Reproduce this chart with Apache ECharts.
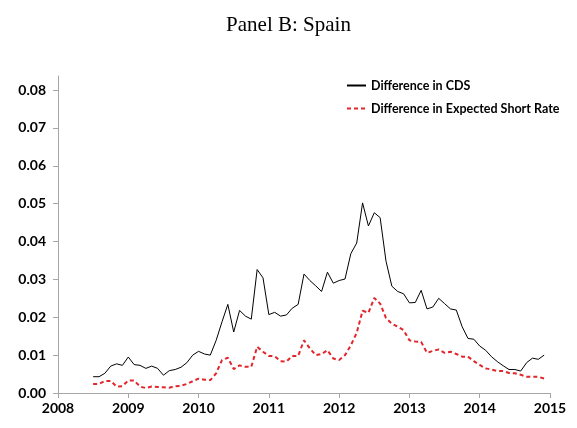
<!DOCTYPE html>
<html>
<head>
<meta charset="utf-8">
<script src="https://cdn.jsdelivr.net/npm/echarts@6/dist/echarts.min.js"></script>
<style>
  html, body { margin: 0; padding: 0; background: #fff; }
  #chart { width: 577px; height: 428px; }
</style>
</head>
<body>
<div id="chart"></div>
<script>
// monthly observations, Jul 2008 .. Dec 2014
var startYear = 2008, startMonth = 6, nMonths = 78;
var months = [];
for (var i = 0; i < nMonths; i++) {
    months.push(startYear + (startMonth + i) / 12);
}

var cdsDiff = [
    0.0043, 0.0043, 0.0052, 0.0071, 0.0077, 0.0073,
    0.0095, 0.0075, 0.0073, 0.0065, 0.0071, 0.0065, 0.0047, 0.0059, 0.0062, 0.0068, 0.0080, 0.0100,
    0.0110, 0.0103, 0.0100, 0.0139, 0.0188, 0.0234, 0.0161, 0.0218, 0.0203, 0.0195, 0.0326, 0.0304,
    0.0207, 0.0213, 0.0203, 0.0206, 0.0224, 0.0234, 0.0314, 0.0297, 0.0283, 0.0268, 0.0319, 0.0290,
    0.0297, 0.0301, 0.0368, 0.0396, 0.0502, 0.0441, 0.0476, 0.0463, 0.0348, 0.0282, 0.0268, 0.0262,
    0.0238, 0.0239, 0.0271, 0.0222, 0.0227, 0.0250, 0.0236, 0.0222, 0.0219, 0.0175, 0.0144, 0.0142,
    0.0124, 0.0113, 0.0096, 0.0083, 0.0072, 0.0062, 0.0062, 0.0058, 0.0080, 0.0092, 0.0089, 0.0100
];

var shortRateDiff = [
    0.0024, 0.0024, 0.0032, 0.0032, 0.0017, 0.0018,
    0.0033, 0.0033, 0.0017, 0.0013, 0.0017, 0.0016, 0.0015, 0.0014, 0.0018, 0.0019, 0.0024, 0.0031,
    0.0038, 0.0035, 0.0034, 0.0052, 0.0087, 0.0093, 0.0063, 0.0073, 0.0069, 0.0069, 0.0122, 0.0109,
    0.0098, 0.0097, 0.0084, 0.0083, 0.0098, 0.0098, 0.0139, 0.0118, 0.0100, 0.0103, 0.0113, 0.0091,
    0.0087, 0.0100, 0.0126, 0.0159, 0.0217, 0.0212, 0.0251, 0.0236, 0.0198, 0.0183, 0.0175, 0.0166,
    0.0139, 0.0136, 0.0135, 0.0106, 0.0111, 0.0115, 0.0106, 0.0109, 0.0103, 0.0096, 0.0096, 0.0084,
    0.0074, 0.0065, 0.0062, 0.0058, 0.0058, 0.0053, 0.0052, 0.0048, 0.0043, 0.0043, 0.0043, 0.0038
];

var yTicks = [0, 0.01, 0.02, 0.03, 0.04, 0.05, 0.06, 0.07, 0.08];
var seriesNames = ['Difference in CDS', 'Difference in Expected Short Rate'];

function pairs(vals) {
    return vals.map(function (v, i) { return [months[i], v]; });
}

var chart = echarts.init(document.getElementById('chart'));
var labelFont = { fontFamily: 'Lato', fontWeight: 'bold', fontSize: 14, color: '#000' };

chart.setOption({
    animation: false,
    title: {
        text: 'Panel B: Spain',
        left: 'center',
        top: 10,
        textStyle: { fontFamily: 'Liberation Serif', fontWeight: 'normal', fontSize: 21, color: '#000' }
    },
    legend: {
        orient: 'vertical',
        left: 341,
        top: 74,
        itemWidth: 19,
        itemHeight: 10,
        itemGap: 10,
        itemStyle: { opacity: 0 },
        textStyle: { fontFamily: 'Lato', fontWeight: 'bold', fontSize: 12.5, color: '#000' },
        data: seriesNames
    },
    grid: { left: 58, right: 27, top: 76, bottom: 35 },
    xAxis: {
        type: 'value',
        min: 2008,
        max: 2015,
        interval: 1,
        splitLine: { show: false },
        axisLine: { lineStyle: { color: '#a6a6a6', width: 1 } },
        axisTick: { length: 5, lineStyle: { color: '#a6a6a6' } },
        axisLabel: Object.assign({ margin: 8, formatter: function (v) { return String(v); } }, labelFont)
    },
    yAxis: {
        type: 'value',
        min: 0,
        max: 0.0837,
        splitLine: { show: false },
        axisLine: { show: true, lineStyle: { color: '#a6a6a6', width: 1 } },
        axisTick: { show: true, length: 5, customValues: yTicks, lineStyle: { color: '#a6a6a6' } },
        axisLabel: Object.assign({
            margin: 12,
            customValues: yTicks,
            formatter: function (v) { return v.toFixed(2); }
        }, labelFont)
    },
    series: [
        {
            name: seriesNames[0],
            type: 'line',
            symbol: 'none',
            lineStyle: { color: '#000', width: 1 },
            itemStyle: { color: '#000' },
            data: pairs(cdsDiff)
        },
        {
            name: seriesNames[1],
            type: 'line',
            symbol: 'none',
            lineStyle: { color: '#e3262b', width: 2, type: [4, 3] },
            itemStyle: { color: '#e3262b' },
            data: pairs(shortRateDiff)
        }
    ]
});
</script>
</body>
</html>
